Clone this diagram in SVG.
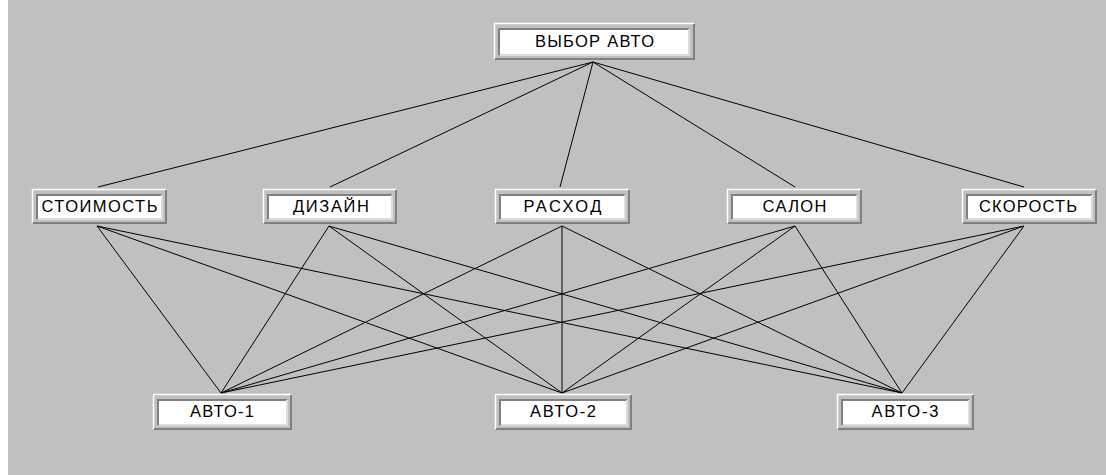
<svg xmlns="http://www.w3.org/2000/svg" width="1106" height="475" viewBox="0 0 1106 475">
<style>
.hl{fill:none;stroke:#ffffff;stroke-width:1.5}
.sh{fill:none;stroke:#808080;stroke-width:2}
.ish{fill:none;stroke:#808080;stroke-width:2}
.ihl{fill:none;stroke:#dcdcdc;stroke-width:2}
.in{fill:#ffffff}
.t{font-family:"Liberation Sans",Arial,sans-serif;font-size:16.5px;fill:#000;text-anchor:middle}
.c line{stroke:#000;stroke-width:1}
</style>
<rect x="0" y="0" width="1106" height="475" fill="#ffffff"/>
<rect x="8" y="0" width="1098" height="475" fill="#c0c0c0"/>
<g class="c" id="connectors">
<line x1="593" y1="62" x2="98" y2="187"/>
<line x1="593" y1="62" x2="330" y2="187"/>
<line x1="593" y1="62" x2="560" y2="187"/>
<line x1="593" y1="62" x2="795" y2="187"/>
<line x1="593" y1="62" x2="1024" y2="187"/>
<line x1="97" y1="226" x2="221" y2="393"/>
<line x1="97" y1="226" x2="562" y2="393"/>
<line x1="97" y1="226" x2="902" y2="393"/>
<line x1="329" y1="226" x2="221" y2="393"/>
<line x1="329" y1="226" x2="562" y2="393"/>
<line x1="329" y1="226" x2="902" y2="393"/>
<line x1="562" y1="226" x2="221" y2="393"/>
<line x1="562" y1="226" x2="562" y2="393"/>
<line x1="562" y1="226" x2="902" y2="393"/>
<line x1="795" y1="226" x2="221" y2="393"/>
<line x1="795" y1="226" x2="562" y2="393"/>
<line x1="795" y1="226" x2="902" y2="393"/>
<line x1="1024" y1="226" x2="221" y2="393"/>
<line x1="1024" y1="226" x2="562" y2="393"/>
<line x1="1024" y1="226" x2="902" y2="393"/>
</g>
<g id="n-top">
<rect class="in" x="499" y="28" width="190" height="27"/>
<path class="hl" d="M494.5 59V23.5H694"/>
<path class="sh" d="M495 59H694V24"/>
<path class="ish" d="M499 55V29H689"/>
<path class="ihl" d="M500 55H689V29"/>
<text class="t" x="594.5" y="47" textLength="119" lengthAdjust="spacing">ВЫБОР АВТО</text>
</g>
<g id="n-cost">
<rect class="in" x="37" y="194" width="125" height="25"/>
<path class="hl" d="M32.5 223V189.5H166"/>
<path class="sh" d="M33 223H166V190"/>
<path class="ish" d="M37 219V195H162"/>
<path class="ihl" d="M38 219H162V195"/>
<text class="t" x="99.5" y="212" textLength="116" lengthAdjust="spacing">СТОИМОСТЬ</text>
</g>
<g id="n-design">
<rect class="in" x="268" y="194" width="124" height="25"/>
<path class="hl" d="M263.5 223V189.5H396"/>
<path class="sh" d="M264 223H396V190"/>
<path class="ish" d="M268 219V195H392"/>
<path class="ihl" d="M269 219H392V195"/>
<text class="t" x="331" y="212" textLength="76" lengthAdjust="spacing">ДИЗАЙН</text>
</g>
<g id="n-fuel">
<rect class="in" x="500" y="194" width="125" height="25"/>
<path class="hl" d="M495.5 223V189.5H629"/>
<path class="sh" d="M496 223H629V190"/>
<path class="ish" d="M500 219V195H625"/>
<path class="ihl" d="M501 219H625V195"/>
<text class="t" x="562.5" y="212" textLength="78" lengthAdjust="spacing">РАСХОД</text>
</g>
<g id="n-salon">
<rect class="in" x="732" y="194" width="125" height="25"/>
<path class="hl" d="M727.5 223V189.5H861"/>
<path class="sh" d="M728 223H861V190"/>
<path class="ish" d="M732 219V195H857"/>
<path class="ihl" d="M733 219H857V195"/>
<text class="t" x="794.5" y="212" textLength="64" lengthAdjust="spacing">САЛОН</text>
</g>
<g id="n-speed">
<rect class="in" x="967" y="194" width="125" height="25"/>
<path class="hl" d="M962.5 223V189.5H1096"/>
<path class="sh" d="M963 223H1096V190"/>
<path class="ish" d="M967 219V195H1092"/>
<path class="ihl" d="M968 219H1092V195"/>
<text class="t" x="1028" y="212" textLength="98" lengthAdjust="spacing">СКОРОСТЬ</text>
</g>
<g id="n-a1">
<rect class="in" x="158" y="399" width="129" height="26"/>
<path class="hl" d="M153.5 429V394.5H291"/>
<path class="sh" d="M154 429H291V395"/>
<path class="ish" d="M158 425V400H287"/>
<path class="ihl" d="M159 425H287V400"/>
<text class="t" x="222" y="417" textLength="64" lengthAdjust="spacing">АВТО-1</text>
</g>
<g id="n-a2">
<rect class="in" x="500" y="399" width="127" height="26"/>
<path class="hl" d="M495.5 429V394.5H631"/>
<path class="sh" d="M496 429H631V395"/>
<path class="ish" d="M500 425V400H627"/>
<path class="ihl" d="M501 425H627V400"/>
<text class="t" x="563" y="417" textLength="66" lengthAdjust="spacing">АВТО-2</text>
</g>
<g id="n-a3">
<rect class="in" x="842" y="399" width="127" height="26"/>
<path class="hl" d="M837.5 429V394.5H973"/>
<path class="sh" d="M838 429H973V395"/>
<path class="ish" d="M842 425V400H969"/>
<path class="ihl" d="M843 425H969V400"/>
<text class="t" x="905" y="417" textLength="67" lengthAdjust="spacing">АВТО-3</text>
</g>
</svg>
